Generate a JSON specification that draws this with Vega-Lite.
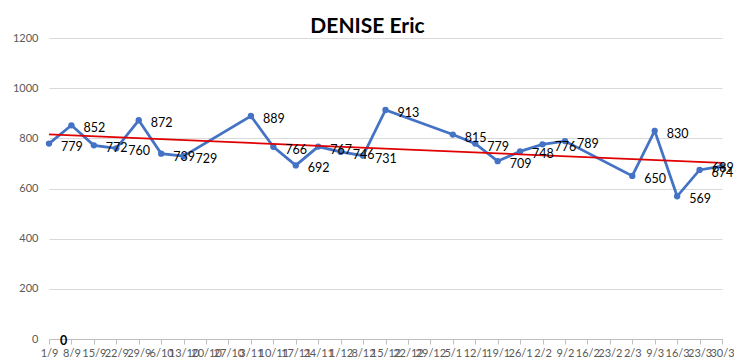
{
  "$schema": "https://vega.github.io/schema/vega-lite/v6.json",
  "width": 673,
  "height": 301,
  "autosize": "none",
  "padding": {"left": 49, "top": 38, "right": 12, "bottom": 25},
  "background": "white",
  "title": {"text": "DENISE Eric", "font": "Lato", "fontSize": 21, "fontWeight": "bold", "color": "black", "anchor": "middle", "dx": -18, "offset": -5},
  "config": {
    "view": {"stroke": null},
    "font": "Lato"
  },
  "datasets": {
    "series": [
      {"date": "1/9", "value": 779},
      {"date": "8/9", "value": 852},
      {"date": "15/9", "value": 772},
      {"date": "22/9", "value": 760},
      {"date": "29/9", "value": 872},
      {"date": "6/10", "value": 739},
      {"date": "13/10", "value": 729},
      {"date": "3/11", "value": 889},
      {"date": "10/11", "value": 766},
      {"date": "17/11", "value": 692},
      {"date": "24/11", "value": 767},
      {"date": "1/12", "value": 746},
      {"date": "8/12", "value": 731},
      {"date": "15/12", "value": 913},
      {"date": "5/1", "value": 815},
      {"date": "12/1", "value": 779},
      {"date": "19/1", "value": 709},
      {"date": "26/1", "value": 748},
      {"date": "2/2", "value": 776},
      {"date": "9/2", "value": 789},
      {"date": "2/3", "value": 650},
      {"date": "9/3", "value": 830},
      {"date": "16/3", "value": 569},
      {"date": "23/3", "value": 674},
      {"date": "30/3", "value": 689}
    ],
    "trend": [
      {"date": "1/9", "value": 816},
      {"date": "30/3", "value": 702}
    ],
    "zero": [
      {"date": "1/9", "value": 0}
    ]
  },
  "encoding": {
    "x": {
      "field": "date",
      "type": "ordinal",
      "title": null,
      "scale": {"type": "point", "padding": 0, "domain": ["1/9","8/9","15/9","22/9","29/9","6/10","13/10","20/10","27/10","3/11","10/11","17/11","24/11","1/12","8/12","15/12","22/12","29/12","5/1","12/1","19/1","26/1","2/2","9/2","16/2","23/2","2/3","9/3","16/3","23/3","30/3"]},
      "axis": {"labelAngle": 0, "labelOverlap": false, "labelFontSize": 11, "labelColor": "#595959", "labelFont": "Lato", "tickColor": "#bfbfbf", "tickSize": 5, "domainColor": "#bfbfbf", "labelPadding": 3, "grid": false}
    },
    "y": {
      "field": "value",
      "type": "quantitative",
      "title": null,
      "scale": {"domain": [0, 1200], "nice": false},
      "axis": {"values": [0, 200, 400, 600, 800, 1000, 1200], "format": "d", "labelFontSize": 11, "labelColor": "#595959", "labelFont": "Lato", "domain": false, "ticks": false, "labelPadding": 11, "gridColor": "#d9d9d9", "gridWidth": 1}
    }
  },
  "layer": [
    {
      "data": {"name": "series"},
      "mark": {"type": "line", "color": "#4472C4", "strokeWidth": 2.75, "point": {"filled": true, "color": "#4472C4", "size": 40}}
    },
    {
      "data": {"name": "trend"},
      "mark": {"type": "line", "color": "#E00000", "strokeWidth": 1.75}
    },
    {
      "data": {"name": "series"},
      "transform": [{"filter": "datum.date !== '30/3'"}],
      "mark": {"type": "text", "align": "left", "baseline": "middle", "dx": 12, "dy": 3, "fontSize": 12.5, "color": "black", "font": "Lato"},
      "encoding": {"text": {"field": "value", "type": "quantitative"}}
    },
    {
      "data": {"name": "series"},
      "transform": [{"filter": "datum.date === '30/3'"}],
      "mark": {"type": "text", "align": "left", "baseline": "middle", "dx": -10, "dy": 2, "fontSize": 12.5, "color": "black", "font": "Lato"},
      "encoding": {"text": {"field": "value", "type": "quantitative"}}
    },
    {
      "data": {"name": "zero"},
      "mark": {"type": "text", "align": "left", "baseline": "middle", "dx": 11, "dy": 2, "fontSize": 12.5, "fontWeight": "bold", "color": "black", "font": "Lato"},
      "encoding": {"text": {"field": "value", "type": "quantitative"}}
    }
  ]
}
